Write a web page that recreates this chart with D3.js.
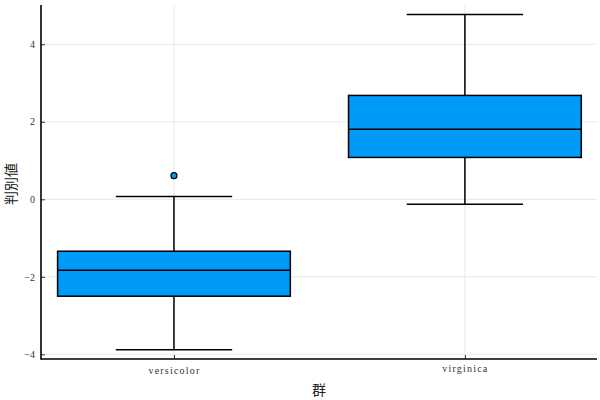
<!DOCTYPE html>
<html><head><meta charset="utf-8">
<script src="https://cdn.jsdelivr.net/npm/d3@7/dist/d3.min.js"></script>
<style>body{margin:0;background:#fff}</style>
</head><body>
<svg id="c" width="600" height="400"></svg>
<script>
const categories = ["versicolor", "virginica"];
const positions = [0.5, 1.5];
const whiskerLow = [-3.88, -0.13];
const q1 = [-2.50, 1.08];
const medians = [-1.83, 1.81];
const q3 = [-1.34, 2.68];
const whiskerHigh = [0.07, 4.77];
const outliers = [[0.61], []];
const yTicks = [-4, -2, 0, 2, 4];
const xLabel = "群";
const yLabel = "判別値";

const svg = d3.select("#c");
const x = d3.scaleLinear().domain([0.043, 1.954]).range([41, 597]);
const y = d3.scaleLinear().domain([-4.12, 5.0]).range([359, 5.5]);
const boxW = 0.8, capW = 0.4;
const fill = "#009af9";

// grid
const g = svg.append("g");
g.selectAll(".gy").data(yTicks).join("line")
  .attr("x1", 41).attr("x2", 597).attr("y1", d => y(d)).attr("y2", d => y(d))
  .attr("stroke", "#e8e8e8").attr("stroke-width", 1);
g.selectAll(".gx").data(positions).join("line")
  .attr("x1", d => x(d)).attr("x2", d => x(d)).attr("y1", 5).attr("y2", 359)
  .attr("stroke", "#e8e8e8").attr("stroke-width", 1);

// axes
const yAxis = d3.axisLeft(y).tickValues(yTicks).tickSize(-4).tickPadding(6).tickFormat(d3.format("d"));
const ya = svg.append("g").attr("transform", "translate(41,0)").call(yAxis);
ya.select(".domain").remove();
ya.selectAll("text").attr("font-family", "Liberation Serif, serif").attr("font-size", 10).attr("fill", "#333");
ya.selectAll("line").attr("stroke", "#333");

const xAxis = d3.axisBottom(x).tickValues(positions).tickSize(-4).tickPadding(8)
  .tickFormat((d, i) => categories[i]);
const xa = svg.append("g").attr("transform", "translate(0,359)").call(xAxis);
xa.select(".domain").remove();
xa.selectAll("text").attr("font-family", "Liberation Serif, serif").attr("font-size", 10)
  .attr("letter-spacing", "1.2px").attr("fill", "#333")
  .attr("y", (d, i) => i === 1 ? 6 : 8);
xa.selectAll("line").attr("stroke", "#333");

// axis lines
svg.append("line").attr("x1", 41).attr("x2", 41).attr("y1", 5).attr("y2", 359.5).attr("stroke", "#000").attr("stroke-width", 1.6);
svg.append("line").attr("x1", 40.5).attr("x2", 597).attr("y1", 359).attr("y2", 359).attr("stroke", "#000").attr("stroke-width", 1.6);

// boxes
const b = svg.append("g");
categories.forEach((c, i) => {
  const p = positions[i];
  b.append("line").attr("x1", x(p)).attr("x2", x(p)).attr("y1", y(whiskerHigh[i])).attr("y2", y(q3[i])).attr("stroke", "#000").attr("stroke-width", 1.5);
  b.append("line").attr("x1", x(p)).attr("x2", x(p)).attr("y1", y(q1[i])).attr("y2", y(whiskerLow[i])).attr("stroke", "#000").attr("stroke-width", 1.5);
  b.append("line").attr("x1", x(p - capW/2)).attr("x2", x(p + capW/2)).attr("y1", y(whiskerHigh[i])).attr("y2", y(whiskerHigh[i])).attr("stroke", "#000").attr("stroke-width", 1.5);
  b.append("line").attr("x1", x(p - capW/2)).attr("x2", x(p + capW/2)).attr("y1", y(whiskerLow[i])).attr("y2", y(whiskerLow[i])).attr("stroke", "#000").attr("stroke-width", 1.5);
  b.append("rect").attr("x", x(p - boxW/2)).attr("width", x(p + boxW/2) - x(p - boxW/2))
    .attr("y", y(q3[i])).attr("height", y(q1[i]) - y(q3[i]))
    .attr("fill", fill).attr("stroke", "#000").attr("stroke-width", 1.5);
  b.append("line").attr("x1", x(p - boxW/2)).attr("x2", x(p + boxW/2)).attr("y1", y(medians[i])).attr("y2", y(medians[i])).attr("stroke", "#000").attr("stroke-width", 1.5);
  b.selectAll(null).data(outliers[i]).join("circle")
    .attr("cx", x(p)).attr("cy", d => y(d)).attr("r", 3)
    .attr("fill", fill).attr("stroke", "#000").attr("stroke-width", 1.2);
});

// labels
svg.append("text").attr("x", 319).attr("y", 395).attr("text-anchor", "middle")
  .attr("font-family", "Noto Sans CJK JP").attr("font-size", 14).attr("fill", "#222").text(xLabel);
svg.append("text").attr("transform", "translate(16,184) rotate(-90)").attr("text-anchor", "middle")
  .attr("font-family", "Noto Sans CJK JP").attr("font-size", 14).attr("fill", "#222").text(yLabel);
</script>
</body></html>
